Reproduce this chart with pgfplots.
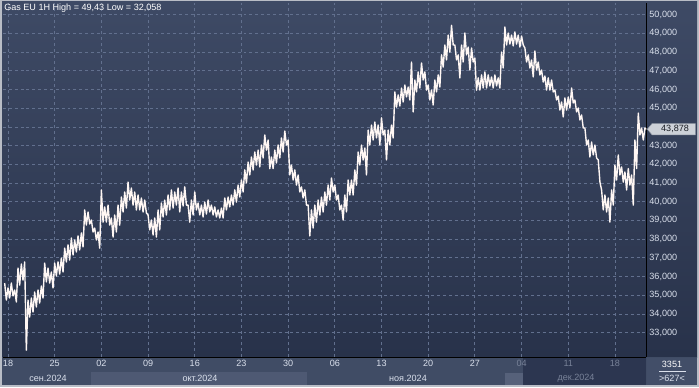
\documentclass[border=0pt]{standalone}
\usepackage{pgfplots}
\pgfplotsset{compat=1.18}
\usepackage{fontspec}
\setmainfont{Liberation Sans}
\usetikzlibrary{shapes.symbols}
\definecolor{framec}{RGB}{185,189,198}
\definecolor{bgtop}{RGB}{62,74,101}
\definecolor{bgbot}{RGB}{40,50,74}
\definecolor{stripc}{RGB}{64,76,101}
\definecolor{octc}{RGB}{78,89,115}
\definecolor{sqc}{RGB}{86,97,122}
\definecolor{darkc}{RGB}{44,54,80}
\definecolor{cellc}{RGB}{66,78,104}
\definecolor{gridc}{RGB}{98,112,142}
\definecolor{labc}{RGB}{218,224,236}
\definecolor{dimc}{RGB}{120,130,152}
\definecolor{barc}{RGB}{255,247,244}
\newcommand{\sm}{\fontsize{6.8}{8}\selectfont}
\begin{document}
\begin{tikzpicture}
\begin{scope}[x=0.75pt,y=-0.75pt]
\fill[framec] (0,0) rectangle (699,387);
\shade[top color=bgtop, bottom color=bgbot] (2,1.5) rectangle (697,357);
\fill[stripc] (2,357) rectangle (697,385);
\fill[octc] (91,372) rectangle (307,385);
\fill[sqc] (505,373) rectangle (523,385);
\fill[darkc] (523,358) rectangle (646,385);
\fill[cellc] (647,358) rectangle (697,384);
\end{scope}
\begin{axis}[
  at={(2.25pt,-267.75pt)}, anchor=south west,
  scale only axis, width=482.6pt, height=265.5pt,
  xmin=-0.75, xmax=95.73, ymin=31.695, ymax=50.626,
  axis x line*=bottom, axis y line*=right,
  axis line style={black, line width=0.75pt, -},
  tick style={draw=none},
  xtick={0,7,...,91},
  xticklabels={18,25,02,09,16,23,30,06,13,20,27,\textcolor{dimc}{04},\textcolor{dimc}{11},\textcolor{dimc}{18}},
  ytick={33,34,...,50},
  yticklabel={\ifdim\tick pt=44pt\relax\else\pgfmathprintnumber{\tick}\fi},
  grid=major,
  major grid style={gridc, line width=0.6pt, dash pattern=on 2.2pt off 2.2pt},
  xticklabel style={font=\sm, text=labc, inner sep=2pt},
  yticklabel style={font=\sm, text=labc, anchor=west, inner sep=2pt,
    /pgf/number format/.cd, fixed, fixed zerofill, precision=3, use comma, 1000 sep={}, assume math mode=true},
]
\addplot[barc, line width=1.05pt, mark=none, line join=round] table[x=d, y=v] {
d v
-0.5 35.65
-0.25 34.74
0 35.39
0.25 34.85
0.5 35.65
0.75 34.96
1 35.28
1.25 34.64
1.5 36.45
1.75 35.54
2 36.67
2.25 35.81
2.5 36.78
2.75 32.06
3 34.74
3.25 33.83
3.5 34.85
3.75 34.10
4 35.17
4.25 34.37
4.5 35.28
4.75 34.58
5 35.49
5.25 34.85
5.5 36.72
5.75 35.71
6 36.45
6.25 35.65
6.5 36.24
6.75 35.39
7 36.72
7.25 36.03
7.5 36.78
7.75 36.13
8 36.99
8.25 36.24
8.5 37.52
8.75 36.78
9 37.69
9.25 36.88
9.5 38.06
9.75 37.15
10 37.95
10.25 37.31
10.5 38.17
10.75 37.42
11 38.33
11.25 37.58
11.5 39.56
11.75 38.75
12 39.45
12.25 38.81
12.5 39.02
12.75 38.38
13 38.59
13.25 37.95
13.5 38.38
13.75 37.52
14 40.63
14.25 38.91
14.5 39.72
14.75 38.91
15 39.82
15.25 38.75
15.5 39.13
15.75 38.11
16 39.29
16.25 38.38
16.5 39.82
16.75 38.75
17 40.25
17.25 39.45
17.5 40.52
17.75 39.66
18 41.05
18.25 40.09
18.5 40.73
18.75 39.82
19 40.52
19.25 39.56
19.5 40.36
19.75 39.56
20 40.20
20.25 39.45
20.5 40.09
20.75 39.40
21 39.29
21.25 38.49
21.5 39.02
21.75 38.22
22 39.13
22.25 38.11
22.5 39.56
22.75 38.49
23 39.93
23.25 39.18
23.5 40.09
23.75 39.29
24 40.36
24.25 39.56
24.5 40.63
24.75 39.66
25 40.52
25.25 39.82
25.5 40.73
25.75 39.45
26 40.52
26.25 39.77
26.5 40.79
26.75 39.82
27 39.82
27.25 38.91
27.5 40.09
27.75 39.29
28 40.52
28.25 39.56
28.5 39.93
28.75 39.29
29 39.82
29.25 39.18
29.5 39.98
29.75 39.34
30 40.09
30.25 39.45
30.5 39.82
30.75 39.29
31 39.72
31.25 39.18
31.5 39.56
31.75 39.13
32 39.66
32.25 39.13
32.5 40.20
32.75 39.56
33 40.25
33.25 39.72
33.5 40.36
33.75 39.82
34 40.63
34.25 39.98
34.5 40.89
34.75 40.25
35 41.16
35.25 40.52
35.5 41.70
35.75 41.00
36 42.12
36.25 41.43
36.5 42.39
36.75 41.70
37 42.66
37.25 41.96
37.5 42.76
37.75 41.86
38 43.03
38.25 42.34
38.5 43.57
38.75 42.76
39 43.30
39.25 41.77
39.5 42.39
39.75 41.77
40 42.76
40.25 42.07
40.5 43.03
40.75 42.34
41 43.41
41.25 42.66
41.5 43.78
41.75 43.03
42 43.30
42.25 41.43
42.5 41.96
42.75 41.16
43 41.70
43.25 40.89
43.5 41.43
43.75 40.52
44 40.79
44.25 40.20
44.5 40.63
44.75 39.82
45 39.82
45.25 38.17
45.5 39.56
45.75 38.59
46 39.82
46.25 38.91
46.5 40.09
46.75 39.29
47 40.25
47.25 39.45
47.5 40.52
47.75 39.82
48 40.89
48.25 40.09
48.5 41.27
48.75 40.52
49 40.89
49.25 40.09
49.5 40.36
49.75 39.56
50 39.82
50.25 39.02
50.5 40.36
50.75 39.45
51 41.16
51.25 40.36
51.5 41.16
51.75 40.36
52 41.70
52.25 40.89
52.5 42.66
52.75 41.96
53 43.03
53.25 42.23
53.5 42.87
53.75 41.43
54 43.83
54.25 43.03
54.5 44.10
54.75 43.30
55 44.26
55.25 43.41
55.5 44.10
55.75 43.03
56 44.48
56.25 43.57
56.5 43.83
56.75 42.23
57 43.83
57.25 43.03
57.5 44.10
57.75 43.41
58 45.87
58.25 45.06
58.5 45.71
58.75 45.12
59 46.08
59.25 45.33
59.5 46.24
59.75 45.60
60 46.13
60.25 45.44
60.5 47.47
60.75 44.80
61 46.51
61.25 45.87
61.5 46.94
61.75 46.08
62 47.42
62.25 46.51
62.5 46.94
62.75 45.97
63 46.24
63.25 45.44
63.5 45.97
63.75 45.17
64 46.51
64.25 45.87
64.5 46.78
64.75 46.13
65 47.85
65.25 47.20
65.5 48.38
65.75 47.58
66 48.91
66.25 48.00
66.5 49.43
66.75 48.38
67 48.38
67.25 47.58
67.5 47.85
67.75 46.62
68 48.38
68.25 47.47
68.5 49.02
68.75 47.85
69 48.27
69.25 47.04
69.5 48.22
69.75 47.47
70 47.68
70.25 45.97
70.5 46.62
70.75 45.97
71 46.78
71.25 46.08
71.5 46.94
71.75 46.08
72 46.78
72.25 46.19
72.5 46.67
72.75 46.08
73 46.78
73.25 46.19
73.5 46.62
73.75 46.08
74 48.00
74.25 47.15
74.5 49.34
74.75 48.38
75 49.02
75.25 48.43
75.5 48.91
75.75 48.33
76 49.08
76.25 48.43
76.5 48.91
76.75 48.27
77 48.86
77.25 48.38
77.5 48.22
77.75 47.47
78 47.85
78.25 47.15
78.5 47.58
78.75 46.67
79 48.06
79.25 47.04
79.5 47.47
79.75 46.78
80 47.04
80.25 46.40
80.5 46.72
80.75 45.97
81 46.62
81.25 45.97
81.5 46.51
81.75 45.87
82 45.97
82.25 45.44
82.5 45.65
82.75 44.90
83 45.33
83.25 44.53
83.5 45.55
83.75 44.90
84 45.60
84.25 45.01
84.5 46.08
84.75 45.28
85 45.44
85.25 44.80
85.5 45.01
85.75 44.37
86 44.64
86.25 43.94
86.5 43.94
86.75 43.03
87 43.30
87.25 42.39
87.5 43.19
87.75 42.50
88 43.03
88.25 42.34
88.5 42.23
88.75 41.05
89 40.63
89.25 39.56
89.5 40.36
89.75 39.45
90 40.20
90.25 38.91
90.5 40.63
90.75 39.82
91 41.96
91.25 41.16
91.5 42.50
91.75 41.43
92 41.86
92.25 41.05
92.5 41.59
92.75 40.63
93 41.77
93.25 40.89
93.5 41.43
93.75 39.82
94 43.30
94.25 41.77
94.5 44.74
94.75 43.57
95 43.94
95.25 43.30
95.5 43.94
95.75 43.878
};
\end{axis}
\begin{scope}[x=0.75pt,y=-0.75pt]
\node[anchor=west, inner sep=0pt, text=white, font=\sm] at (4,8.5) {Gas EU 1H High = 49,43 Low = 32,058};
\node[signal, signal to=west, signal pointer angle=100, fill={rgb,255:red,205;green,209;blue,216}, draw={rgb,255:red,150;green,156;blue,168}, line width=0.4pt, minimum width=36pt, minimum height=8.5pt, inner sep=0.5pt, anchor=west, font=\sm, text={rgb,255:red,25;green,28;blue,35}] at (647,129.2) {\hspace{2pt}43,878};
\node[font=\sm, text=labc] at (48,378.5) {сен.2024};
\node[font=\sm, text=labc] at (200,378.5) {окт.2024};
\node[font=\sm, text=labc] at (408,378.5) {ноя.2024};
\node[font=\sm, text=dimc] at (576,378.5) {дек.2024};
\node[font=\sm, text=white] at (672,364.5) {3351};
\draw[labc, line width=0.5pt] (659,371) -- (686,371);
\node[font=\sm, text=labc] at (672,378) {>627<};
\end{scope}
\pgfresetboundingbox
\path[use as bounding box] (0,0) rectangle (524.25pt,-290.25pt);
\end{tikzpicture}
\end{document}
